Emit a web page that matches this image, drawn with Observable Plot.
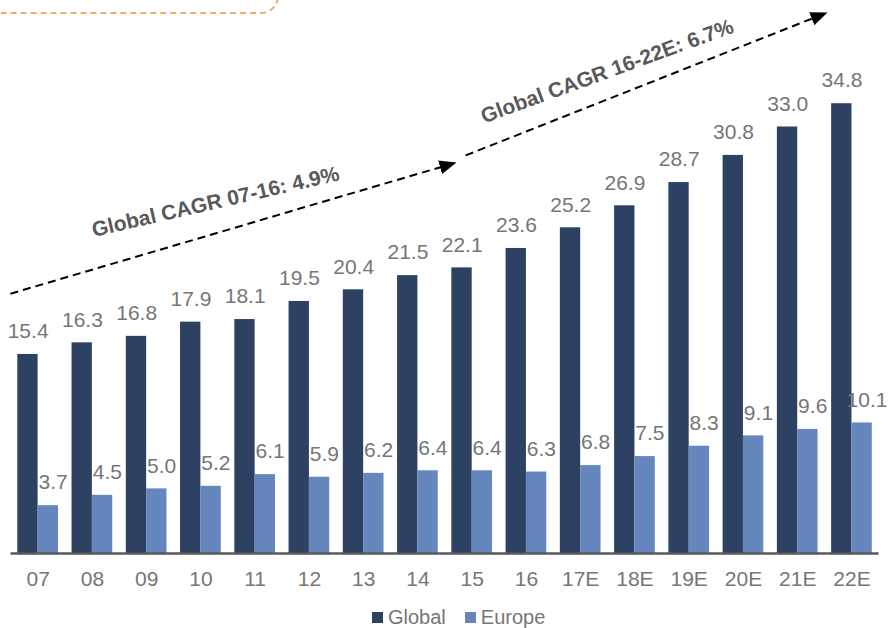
<!DOCTYPE html>
<html><head><meta charset="utf-8">
<script src="https://cdn.jsdelivr.net/npm/d3@7"></script>
<script src="https://cdn.jsdelivr.net/npm/@observablehq/plot@0.6"></script>
<style>
body{margin:0;background:#fff;font-family:"Liberation Sans",Arial,sans-serif;}
#wrap{position:relative;width:888px;height:628px;overflow:hidden;}
#chart{position:absolute;left:0;top:0;}
#callout{position:absolute;left:-40px;top:-80px;width:319px;height:94px;box-sizing:border-box;border:2.5px dashed #f2ac66;border-radius:18px;}
#legend{position:absolute;left:372px;top:606px;height:22px;display:flex;align-items:center;font-size:20px;color:#767676;}
.item{display:flex;align-items:center;margin-right:19px;}
.sw{display:inline-block;width:11px;height:11px;margin-right:5px;}
</style></head><body>
<div id="wrap"><div id="chart"></div><div id="callout"></div><div id="legend"></div></div>
<script>
const years = ["07","08","09","10","11","12","13","14","15","16","17E","18E","19E","20E","21E","22E"];
const globalValues = [15.4,16.3,16.8,17.9,18.1,19.5,20.4,21.5,22.1,23.6,25.2,26.9,28.7,30.8,33.0,34.8];
const europeValues = [3.7,4.5,5.0,5.2,6.1,5.9,6.2,6.4,6.4,6.3,6.8,7.5,8.3,9.1,9.6,10.1];
const seriesNames = ["Global","Europe"];
const seriesColors = ["#2d4262","#6587bd"];
const cagrLabels = ["Global CAGR 07-16: 4.9%","Global CAGR 16-22E: 6.7%"];
// annotation anchors in data units (x = category index, y = value)
const arrowStarts = [[-0.51, 20.1],[7.88, 30.8]];
const arrowEnds = [[7.71, 30.25],[14.55, 41.86]];
const labelAnchors = [[3.27, 27.2],[10.49, 37.3]];

const rows = years.map((year, i) => ({i, year, global: globalValues[i], europe: europeValues[i]}));
const arrows = arrowStarts.map((s, k) => ({x1: s[0], y1: s[1], x2: arrowEnds[k][0], y2: arrowEnds[k][1]}));
const labels = cagrLabels.map((t, k) => ({label: t, x: labelAnchors[k][0], y: labelAnchors[k][1]}));
const half = 0.375;
const gray = "#767676";

const plot = Plot.plot({
  width: 888, height: 600,
  marginLeft: 10.5, marginRight: 9.4, marginTop: 36, marginBottom: 47,
  x: {type: "linear", domain: [-0.5, 15.5], axis: null},
  y: {domain: [0, 40], axis: null},
  style: {fontFamily: "'Liberation Sans', Arial, sans-serif", background: "transparent", overflow: "visible"},
  marks: [
    Plot.rectY(rows, {x1: d => d.i - half, x2: d => d.i, y: "global", fill: seriesColors[0]}),
    Plot.rectY(rows, {x1: d => d.i, x2: d => d.i + half, y: "europe", fill: seriesColors[1]}),
    Plot.ruleY([0], {stroke: "#595959", strokeWidth: 2.7}),
    Plot.text(rows, {x: "i", y: "global", text: d => d.global.toFixed(1), dx: -10, dy: -23, fontSize: 21, fill: gray}),
    Plot.text(rows, {x: "i", y: "europe", text: d => d.europe.toFixed(1), dx: 15, dy: -23, fontSize: 21, fill: gray}),
    Plot.text(rows, {x: "i", y: () => 0, text: "year", dy: 26, fontSize: 21, fill: gray}),
    Plot.link(arrows, {x1: "x1", y1: "y1", x2: "x2", y2: "y2", stroke: "#000", strokeWidth: 2, strokeDasharray: "8,5", markerEnd: "arrow"}),
    Plot.text([labels[0]], {x: "x", y: "y", text: "label", rotate: -13, fontSize: 21, fontWeight: "bold", fill: "#595959"}),
    Plot.text([labels[1]], {x: "x", y: "y", text: "label", rotate: -20, fontSize: 21, fontWeight: "bold", fill: "#595959"})
  ]
});

// filled triangular arrowheads
d3.select(plot).selectAll("marker").each(function() {
  const m = d3.select(this);
  m.attr("viewBox", "-17 -7 18 14").attr("markerWidth", 18).attr("markerHeight", 14)
   .attr("markerUnits", "userSpaceOnUse").attr("refX", 0).attr("refY", 0).attr("orient", "auto")
   .attr("fill", "#000").attr("stroke", "none").attr("stroke-dasharray", null);
  m.selectAll("*").remove();
  m.append("path").attr("d", "M-17,-7L0,0L-17,7Z").attr("fill", "#000").attr("stroke", "none");
});

document.getElementById("chart").appendChild(plot);

const legend = d3.select("#legend");
seriesNames.forEach((name, k) => {
  const it = legend.append("div").attr("class", "item");
  it.append("span").attr("class", "sw").style("background", seriesColors[k]);
  it.append("span").text(name);
});
</script>
</body></html>
